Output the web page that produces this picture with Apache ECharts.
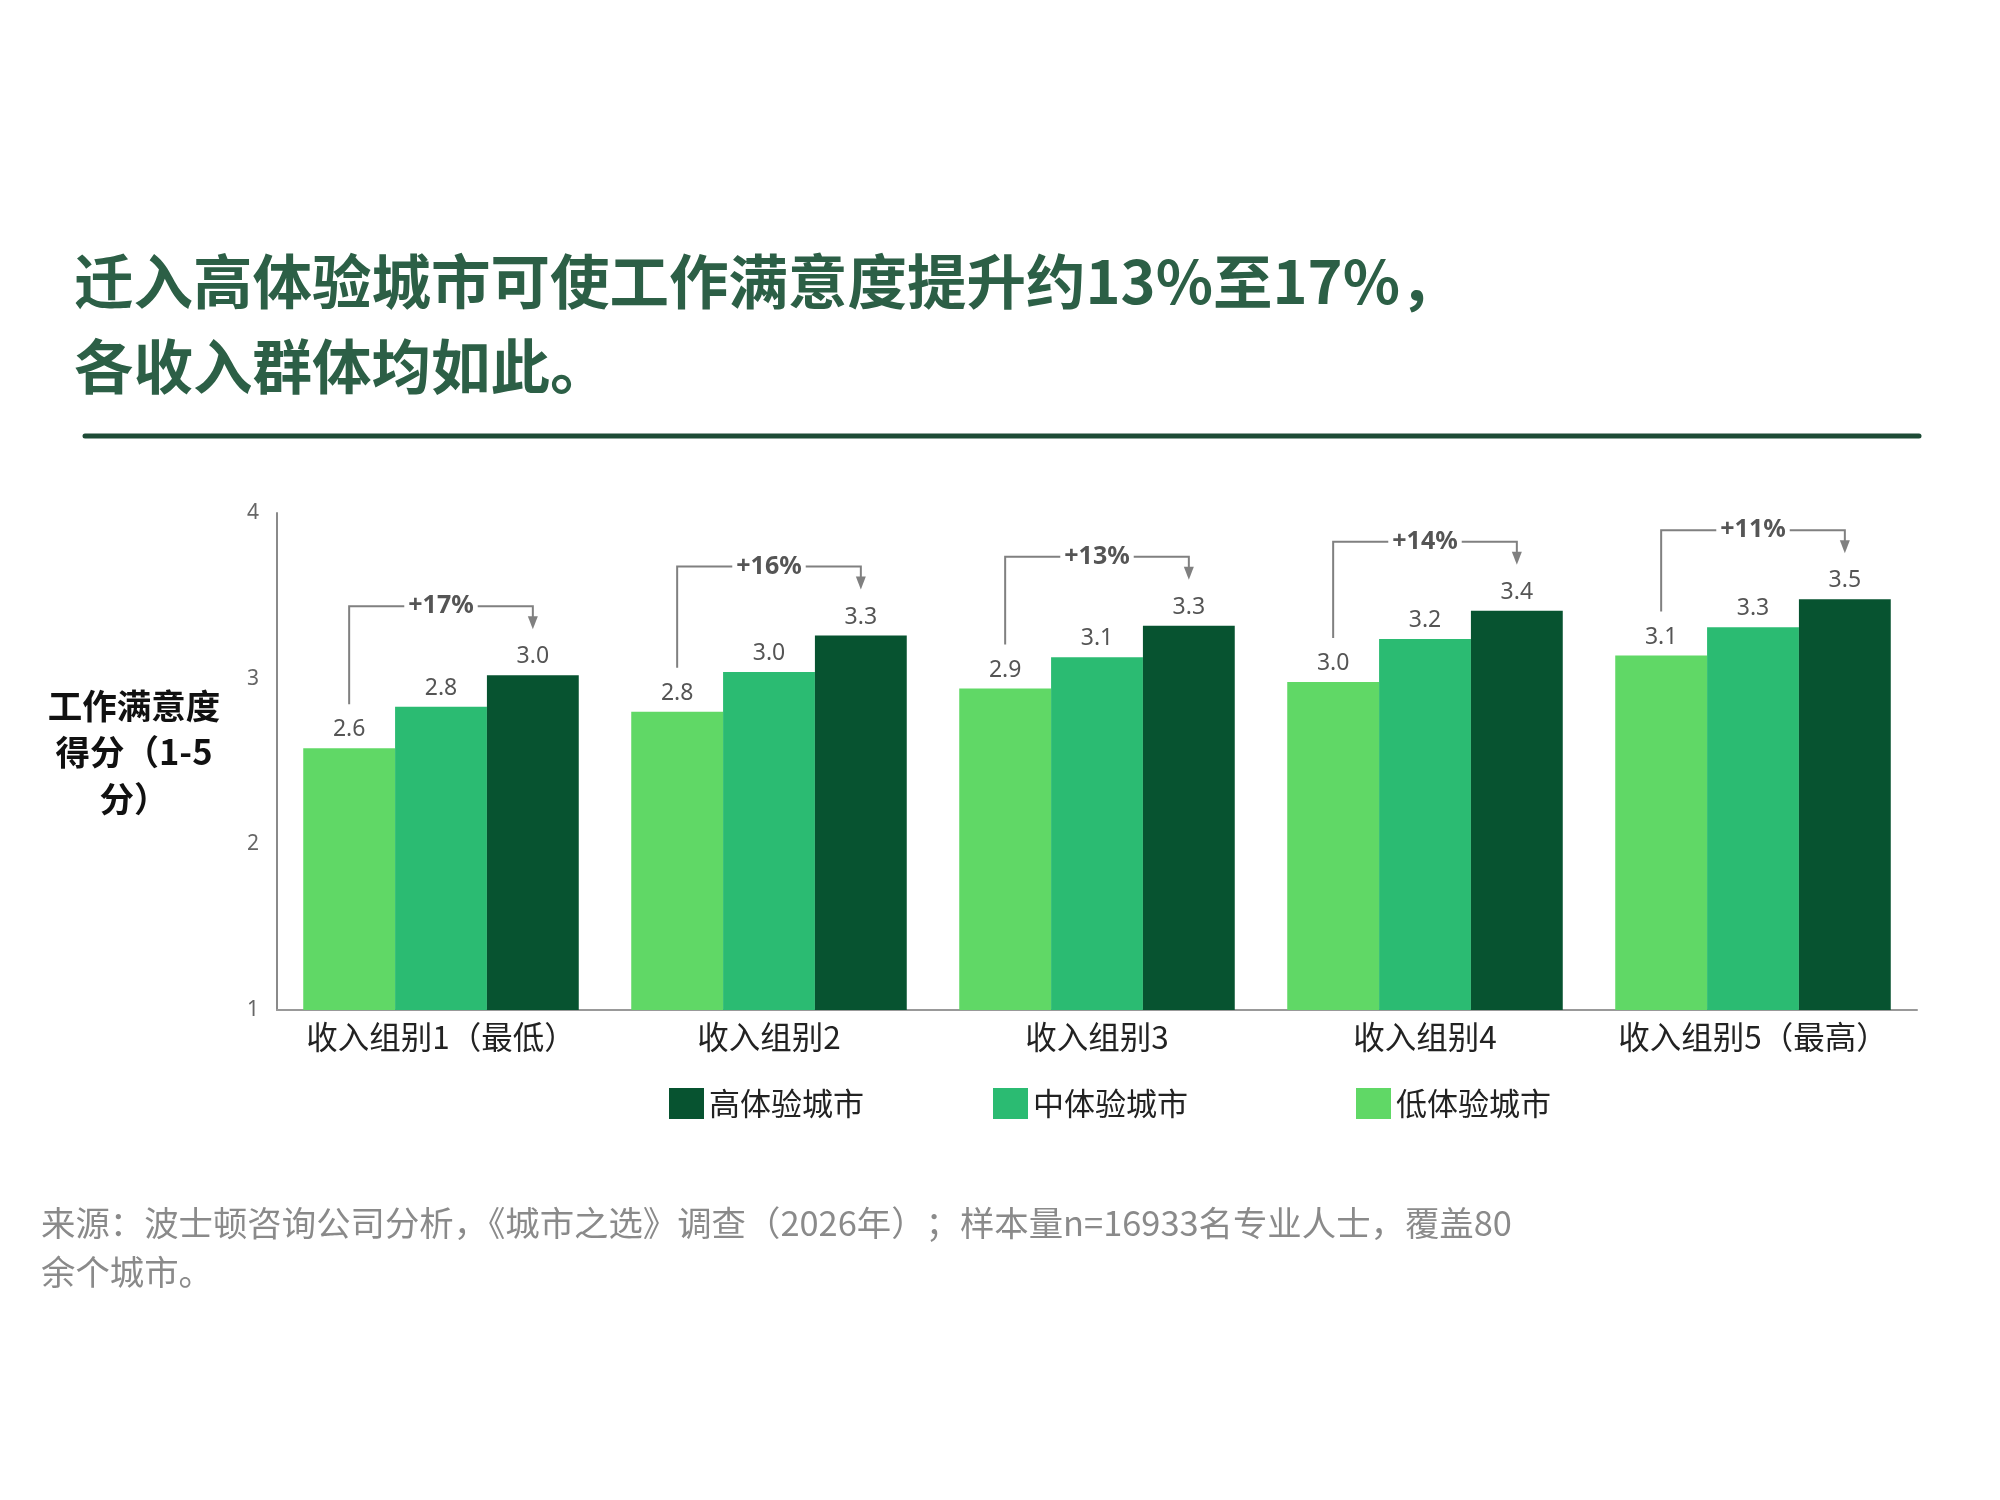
<!DOCTYPE html>
<html>
<head>
<meta charset="utf-8">
<script src="https://cdn.jsdelivr.net/npm/echarts@6/dist/echarts.min.js"></script>
<style>
  html, body { margin: 0; padding: 0; background: #fff; }
  #main { width: 2000px; height: 1500px; }
</style>
</head>
<body>
<div id="main"></div>
<script>
var categorias = ['收入组别1（最低）', '收入组别2', '收入组别3', '收入组别4', '收入组别5（最高）'];
var bajo = [2.58, 2.80, 2.94, 2.98, 3.14];   // 低体验城市
var medio = [2.83, 3.04, 3.13, 3.24, 3.31];  // 中体验城市
var alto = [3.02, 3.26, 3.32, 3.41, 3.48];   // 高体验城市
var aumentos = ['+17%', '+16%', '+13%', '+14%', '+11%'];
var ticksY = [1, 2, 3, 4];

var VERDE_CLARO = '#60d866';
var VERDE_MEDIO = '#2bbb72';
var VERDE_OSCURO = '#075330';
var FUENTE = '"Noto Sans CJK SC", "Noto Sans", sans-serif';
var FUENTE_NUM = '"Liberation Sans Narrow", "Noto Sans", sans-serif';
var HUECO = 0.16;

var dom = document.getElementById('main');
var myChart = echarts.init(dom, null, { renderer: 'canvas' });

function serieBarra(nombre, datos, color) {
    return {
        name: nombre,
        type: 'bar',
        data: datos,
        barGap: 0,
        barCategoryGap: (HUECO * 100) + '%',
        itemStyle: { color: color },
        label: {
            show: true,
            position: 'top',
            distance: 7,
            fontFamily: FUENTE_NUM,
            fontSize: 23,
            color: '#555',
            formatter: function (p) { return p.value.toFixed(1); }
        }
    };
}

function leyenda(nombre, izq) {
    return {
        data: [nombre],
        left: izq,
        top: 1083,
        itemWidth: 35,
        itemHeight: 31,
        icon: 'rect',
        textStyle: { fontFamily: FUENTE, fontSize: 31, color: '#222' }
    };
}

var option = {
    backgroundColor: '#fff',
    animation: false,
    title: [
        {
            text: '迁入高体验城市可使工作满意度提升约13%至17%，\n各收入群体均如此。',
            left: 74,
            top: 239,
            padding: 0,
            textStyle: {
                fontFamily: FUENTE,
                fontSize: 59.5,
                fontWeight: 'bold',
                color: '#2c5f46',
                lineHeight: 85
            }
        },
        {
            text: '来源：波士顿咨询公司分析，《城市之选》调查（2026年）；样本量n=16933名专业人士，覆盖80\n余个城市。',
            left: 41,
            top: 1198,
            padding: 0,
            textStyle: {
                fontFamily: FUENTE,
                fontSize: 34.4,
                fontWeight: 'normal',
                color: '#8a8a8a',
                lineHeight: 49
            }
        }
    ],
    legend: [
        leyenda('高体验城市', 664),
        leyenda('中体验城市', 988),
        leyenda('低体验城市', 1351)
    ],
    grid: {
        left: 277,
        right: 83,
        top: 513,
        bottom: 490
    },
    xAxis: {
        type: 'category',
        data: categorias,
        axisLine: { lineStyle: { color: '#999', width: 2 } },
        axisTick: { show: false },
        axisLabel: {
            interval: 0,
            hideOverlap: false,
            fontFamily: FUENTE,
            fontSize: 31.5,
            color: '#222',
            margin: 11
        }
    },
    yAxis: {
        type: 'value',
        min: ticksY[0],
        max: ticksY[ticksY.length - 1],
        interval: 1,
        axisLine: { show: true, lineStyle: { color: '#8a8a8a', width: 2 } },
        axisTick: { show: false },
        splitLine: { show: false },
        axisLabel: { fontFamily: FUENTE_NUM, fontSize: 21, color: '#666', margin: 18 }
    },
    graphic: [
        {
            type: 'line',
            shape: { x1: 85, y1: 436, x2: 1919, y2: 436 },
            style: { stroke: '#1d4b36', lineWidth: 5, lineCap: 'round' }
        },
        {
            // nombre del eje Y
            type: 'text',
            x: 134,
            y: 752,
            style: {
                text: '工作满意度\n得分（1-5\n分）',
                fontFamily: FUENTE,
                fontSize: 34.5,
                fontWeight: 'bold',
                fill: '#111',
                lineHeight: 46.5,
                align: 'center',
                verticalAlign: 'middle'
            }
        }
    ],
    series: [
        serieBarra('低体验城市', bajo, VERDE_CLARO),
        serieBarra('中体验城市', medio, VERDE_MEDIO),
        serieBarra('高体验城市', alto, VERDE_OSCURO),
        {
            type: 'custom',
            silent: true,
            z: 10,
            data: categorias.map(function (c, i) { return [i, bajo[i], alto[i]]; }),
            renderItem: function (params, api) {
                var i = api.value(0);
                var banda = api.size([1, 0])[0];
                var anchoBarra = banda * (1 - HUECO) / 3;
                var pb = api.coord([i, api.value(1)]);
                var pa = api.coord([i, api.value(2)]);
                var xi = pb[0] - anchoBarra;
                var xd = pa[0] + anchoBarra;
                var yIni = pb[1] - 44;
                var yPunta = pa[1] - 46;
                var yTope = pa[1] - 69;
                return {
                    type: 'group',
                    children: [
                        {
                            type: 'polyline',
                            shape: { points: [[xi, yIni], [xi, yTope], [xd, yTope], [xd, yPunta - 10]] },
                            style: { stroke: '#808080', lineWidth: 2, fill: null }
                        },
                        {
                            type: 'polygon',
                            shape: { points: [[xd - 5, yPunta - 13], [xd + 5, yPunta - 13], [xd, yPunta]] },
                            style: { fill: '#808080' }
                        },
                        {
                            type: 'text',
                            x: (xi + xd) / 2,
                            y: yTope,
                            style: {
                                text: aumentos[i],
                                fill: '#555',
                                fontFamily: FUENTE_NUM,
                                fontSize: 25,
                                fontWeight: 'bold',
                                align: 'center',
                                verticalAlign: 'middle',
                                backgroundColor: '#fff',
                                padding: [2, 4]
                            }
                        }
                    ]
                };
            }
        }
    ]
};

myChart.setOption(option);
window.addEventListener('resize', myChart.resize);
</script>
</body>
</html>
